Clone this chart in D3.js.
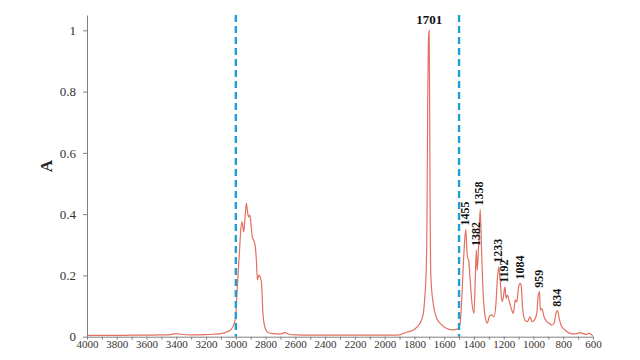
<!DOCTYPE html>
<html>
<head>
<meta charset="utf-8">
<script src="https://cdn.jsdelivr.net/npm/d3@7"></script>
<style>
  html, body { margin: 0; padding: 0; background: #fff; }
  svg { display: block; }
</style>
</head>
<body>
<svg id="chart" width="640" height="360"></svg>
<script>
// ---- data ----
const wavenumber = [4000,3900,3800,3700,3600,3500,3440,3400,3370,3300,3200,3150,3100,3060,3030,3010,3000,2990,2976,2967,2958,2947,2938,2929,2922,2915,2905,2897,2889,2876,2869,2862,2855,2846,2837,2827,2818,2802,2780,2750,2700,2670,2640,2600,2500,2400,2300,2200,2100,2000,1950,1900,1874,1840,1807,1780,1762,1740,1730,1722,1716,1711,1706,1701,1698,1695,1691,1685,1677,1661,1645,1628,1583,1538,1505,1493,1489,1482,1476,1465,1455,1449,1444,1435,1427,1413,1400,1391,1384,1378,1368,1358,1348,1337,1324,1310,1297,1281,1265,1252,1243,1233,1224,1211,1202,1192,1184,1175,1162,1146,1135,1122,1112,1101,1090,1083,1072,1057,1041,1023,1010,994,978,969,959,954,943,929,911,894,878,862,849,838,827,811,788,754,721,687,669,642,631,615,602];
const absorbance = [0.004,0.004,0.004,0.005,0.005,0.006,0.007,0.010,0.008,0.006,0.007,0.008,0.010,0.016,0.025,0.045,0.07,0.163,0.273,0.348,0.375,0.342,0.39,0.435,0.41,0.391,0.397,0.36,0.326,0.31,0.293,0.25,0.185,0.201,0.196,0.174,0.077,0.027,0.013,0.010,0.009,0.013,0.008,0.006,0.005,0.005,0.005,0.005,0.005,0.005,0.005,0.006,0.011,0.016,0.022,0.033,0.044,0.076,0.13,0.2,0.35,0.75,0.96,1.0,0.8,0.45,0.22,0.16,0.12,0.076,0.055,0.044,0.027,0.022,0.027,0.044,0.065,0.12,0.185,0.293,0.35,0.30,0.261,0.248,0.196,0.109,0.076,0.185,0.283,0.217,0.304,0.415,0.272,0.13,0.065,0.044,0.065,0.071,0.065,0.109,0.185,0.228,0.185,0.114,0.13,0.163,0.125,0.136,0.114,0.087,0.076,0.12,0.114,0.158,0.174,0.168,0.087,0.054,0.049,0.065,0.049,0.054,0.076,0.13,0.147,0.087,0.092,0.065,0.049,0.044,0.038,0.044,0.076,0.085,0.06,0.033,0.022,0.011,0.009,0.013,0.011,0.007,0.011,0.009,0.002];

const peakLabels = [1701, 1455, 1382, 1358, 1233, 1192, 1084, 959, 834];
const peakHeights = [1.0, 0.35, 0.283, 0.415, 0.228, 0.163, 0.174, 0.147, 0.085];

const dashedLines = [3000, 1500];

const xTickValues = [4000,3900,3800,3700,3600,3500,3400,3300,3200,3100,3000,2900,2800,2700,2600,2500,2400,2300,2200,2100,2000,1900,1800,1700,1600,1500,1400,1300,1200,1100,1000,900,800,700,600];
const xLabelValues = [4000,3800,3600,3400,3200,3000,2800,2600,2400,2200,2000,1800,1600,1400,1200,1000,800,600];
const yTickValues = [0, 0.2, 0.4, 0.6, 0.8, 1];
const yAxisTitle = "A";

// ---- drawing ----
const svg = d3.select("#chart");
const serif = "'Liberation Serif', 'Times New Roman', serif";

const x = d3.scaleLinear().domain([4000, 600]).range([87, 593]);
const y = d3.scaleLinear().domain([0, 1.05]).range([336.7, 15]);

const points = wavenumber.map((w, i) => [w, absorbance[i]]);

// spectrum
const line = d3.line()
  .x(d => x(d[0]))
  .y(d => y(d[1]))
  .curve(d3.curveMonotoneX);

svg.append("path")
  .datum(points)
  .attr("fill", "none")
  .attr("stroke", "#e2705f")
  .attr("stroke-width", 1.2)
  .attr("d", line);

// dashed region markers
svg.selectAll("line.marker")
  .data(dashedLines)
  .join("line")
  .attr("class", "marker")
  .attr("x1", d => x(d)).attr("x2", d => x(d))
  .attr("y1", y(1.05)).attr("y2", y(0))
  .attr("stroke", "#1f9fd5")
  .attr("stroke-width", 2.4)
  .attr("stroke-dasharray", "7,4");

// x axis
const xLabelSet = new Set(xLabelValues);
const xAxis = d3.axisBottom(x)
  .tickValues(xTickValues)
  .tickSize(3)
  .tickSizeOuter(0)
  .tickPadding(1)
  .tickFormat(d => xLabelSet.has(d) ? String(d) : "");
const gx = svg.append("g").attr("transform", `translate(0,${y(0)})`).call(xAxis);
gx.select(".domain").attr("stroke", "#808080");
gx.selectAll(".tick line").attr("stroke", "#808080");
gx.selectAll(".tick text")
  .attr("font-family", serif).attr("font-size", 11).attr("fill", "#333");

// y axis
const yAxis = d3.axisLeft(y)
  .tickValues(yTickValues)
  .tickSize(4)
  .tickSizeOuter(0)
  .tickPadding(7)
  .tickFormat(d3.format("~g"));
const gy = svg.append("g").attr("transform", `translate(${x(4000)},0)`).call(yAxis);
gy.select(".domain").attr("stroke", "#808080");
gy.selectAll(".tick line").attr("stroke", "#808080");
gy.selectAll(".tick text")
  .attr("font-family", serif).attr("font-size", 13).attr("fill", "#333");

// y axis title
svg.append("text")
  .attr("transform", `translate(46,166) rotate(-90)`)
  .attr("text-anchor", "middle")
  .attr("dominant-baseline", "central")
  .attr("font-family", serif)
  .attr("font-weight", "bold")
  .attr("font-size", 17)
  .attr("fill", "#222")
  .text(yAxisTitle);

// peak labels
peakLabels.forEach((p, i) => {
  const px = x(p), py = y(peakHeights[i]);
  if (i === 0) {
    svg.append("text")
      .attr("x", px).attr("y", py - 6)
      .attr("text-anchor", "middle")
      .attr("font-family", serif).attr("font-weight", "bold")
      .attr("font-size", 13).attr("fill", "#111")
      .text(p);
  } else {
    svg.append("text")
      .attr("transform", `translate(${px - 1},${py - 4}) rotate(-90)`)
      .attr("text-anchor", "start")
      .attr("dominant-baseline", "central")
      .attr("font-family", serif).attr("font-weight", "bold")
      .attr("font-size", 12).attr("fill", "#111")
      .text(p);
  }
});
</script>
</body>
</html>
